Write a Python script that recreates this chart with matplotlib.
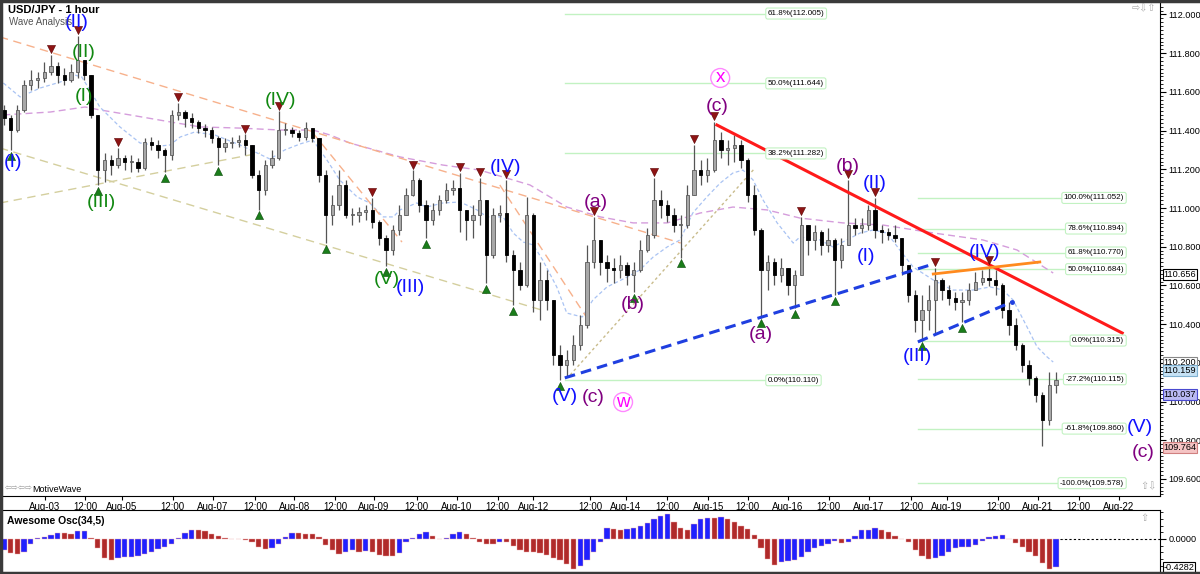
import matplotlib
matplotlib.use("Agg")
import matplotlib.pyplot as plt
import matplotlib.transforms as mtransforms
from matplotlib.lines import Line2D
from matplotlib.ticker import MultipleLocator, FixedLocator

plt.rcParams["font.family"] = ["Liberation Sans", "DejaVu Sans"]

first_open = 111.507
close = [
    111.465, 111.403, 111.507, 111.636, 111.662, 111.672, 111.703, 111.734, 111.687, 111.662,
    111.703, 111.765, 111.687, 111.481, 111.196, 111.248, 111.222, 111.258, 111.238, 111.238,
    111.207, 111.341, 111.326, 111.300, 111.274, 111.481, 111.496, 111.465, 111.445, 111.413,
    111.403, 111.362, 111.315, 111.336, 111.341, 111.352, 111.326, 111.171, 111.093, 111.222,
    111.258, 111.403, 111.403, 111.388, 111.367, 111.413, 111.362, 111.171, 110.964, 111.016,
    111.119, 110.964, 110.964, 110.979, 110.990, 110.928, 110.845, 110.783, 110.886, 110.964,
    111.067, 111.145, 111.016, 110.938, 110.990, 111.041, 111.093, 111.103, 110.990, 110.938,
    110.964, 111.041, 110.757, 110.964, 110.974, 110.757, 110.680, 110.602, 110.964, 110.525,
    110.628, 110.525, 110.240, 110.189, 110.214, 110.292, 110.395, 110.721, 110.835, 110.721,
    110.690, 110.680, 110.705, 110.654, 110.680, 110.783, 110.861, 111.041, 111.016, 110.964,
    110.912, 110.912, 111.067, 111.196, 111.171, 111.196, 111.352, 111.300, 111.310, 111.326,
    111.248, 111.067, 110.886, 110.680, 110.721, 110.654, 110.690, 110.602, 110.654, 110.912,
    110.835, 110.876, 110.809, 110.835, 110.731, 110.809, 110.912, 110.897, 110.912, 110.990,
    110.886, 110.876, 110.861, 110.845, 110.705, 110.550, 110.421, 110.473, 110.525, 110.628,
    110.576, 110.535, 110.514, 110.525, 110.576, 110.618, 110.638, 110.628, 110.602, 110.473,
    110.395, 110.292, 110.189, 110.122, 110.034, 109.904, 110.085, 110.111,
]
high = [
    111.532, 111.481, 111.532, 111.662, 111.713, 111.703, 111.755, 111.791, 111.755, 111.724,
    111.744, 111.889, 111.765, 111.687, 111.481, 111.284, 111.274, 111.310, 111.274, 111.274,
    111.258, 111.362, 111.367, 111.352, 111.310, 111.507, 111.543, 111.507, 111.491, 111.455,
    111.434, 111.419, 111.372, 111.362, 111.367, 111.377, 111.382, 111.326, 111.196, 111.248,
    111.300, 111.501, 111.439, 111.419, 111.403, 111.445, 111.413, 111.362, 111.196, 111.067,
    111.196, 111.145, 111.000, 111.005, 111.016, 111.052, 110.938, 110.861, 110.912, 111.016,
    111.103, 111.196, 111.155, 111.041, 111.026, 111.067, 111.129, 111.145, 111.181, 110.990,
    111.016, 111.155, 111.041, 111.000, 111.016, 111.145, 110.783, 110.721, 111.057, 110.975,
    110.721, 110.680, 110.525, 110.292, 110.266, 110.344, 110.447, 110.809, 110.954, 110.835,
    110.757, 110.742, 110.757, 110.721, 110.721, 110.835, 110.897, 111.155, 111.093, 111.041,
    111.000, 110.964, 111.119, 111.326, 111.248, 111.258, 111.445, 111.393, 111.352, 111.377,
    111.352, 111.258, 111.119, 110.897, 110.757, 110.742, 110.742, 110.690, 110.680, 110.954,
    110.912, 110.912, 110.886, 110.897, 110.845, 110.845, 111.145, 110.948, 110.948, 111.016,
    111.052, 110.912, 110.897, 110.912, 110.845, 110.705, 110.576, 110.550, 110.602, 110.690,
    110.638, 110.602, 110.566, 110.566, 110.612, 110.669, 110.680, 110.700, 110.680, 110.612,
    110.514, 110.432, 110.302, 110.214, 110.132, 110.049, 110.153, 110.153,
]
low = [
    111.429, 111.300, 111.393, 111.496, 111.610, 111.620, 111.651, 111.687, 111.646, 111.636,
    111.651, 111.672, 111.662, 111.465, 111.119, 111.134, 111.171, 111.207, 111.196, 111.186,
    111.186, 111.196, 111.300, 111.258, 111.186, 111.248, 111.455, 111.419, 111.413, 111.388,
    111.367, 111.336, 111.222, 111.289, 111.310, 111.315, 111.274, 111.155, 110.990, 111.067,
    111.207, 111.250, 111.377, 111.367, 111.346, 111.352, 111.341, 111.134, 110.819, 110.912,
    110.990, 110.948, 110.912, 110.928, 110.938, 110.897, 110.809, 110.700, 110.757, 110.861,
    110.964, 111.060, 110.979, 110.845, 110.912, 110.964, 111.026, 111.067, 110.876, 110.835,
    110.845, 110.912, 110.612, 110.742, 110.928, 110.721, 110.499, 110.576, 110.590, 110.463,
    110.421, 110.473, 110.189, 110.110, 110.132, 110.189, 110.266, 110.380, 110.690, 110.654,
    110.618, 110.612, 110.638, 110.602, 110.566, 110.669, 110.773, 110.845, 110.948, 110.928,
    110.876, 110.742, 110.897, 111.067, 111.119, 111.134, 111.186, 111.258, 111.222, 111.238,
    111.207, 111.031, 110.861, 110.432, 110.576, 110.602, 110.618, 110.550, 110.483, 110.654,
    110.757, 110.783, 110.757, 110.773, 110.550, 110.690, 110.809, 110.861, 110.871, 110.886,
    110.845, 110.819, 110.835, 110.824, 110.654, 110.514, 110.359, 110.315, 110.370, 110.354,
    110.525, 110.499, 110.473, 110.411, 110.499, 110.576, 110.602, 110.597, 110.550, 110.432,
    110.344, 110.266, 110.153, 110.085, 109.997, 109.770, 109.879, 110.044,
]
# Awesome Oscillator (34,5), one value per bar
ao = [
    -0.16, -0.21, -0.23, -0.20, -0.08, 0.01, 0.035, 0.06, 0.085, 0.085,
    0.08, 0.12, 0.125, 0.02, -0.14, -0.29, -0.31, -0.28, -0.275, -0.265,
    -0.255, -0.225, -0.19, -0.155, -0.12, -0.07, 0.02, 0.095, 0.13, 0.13,
    0.115, 0.08, 0.045, 0.015, -0.005, -0.005, -0.01, -0.05, -0.12, -0.155,
    -0.14, -0.08, 0.03, 0.085, 0.085, 0.08, 0.07, 0.03, -0.09, -0.17,
    -0.23, -0.20, -0.17, -0.19, -0.18, -0.20, -0.24, -0.255, -0.26, -0.21,
    -0.04, 0.01, 0.08, 0.10, 0.04, 0.005, 0.01, 0.075, 0.11, 0.08,
    0.01, -0.05, -0.07, -0.07, -0.04, -0.05, -0.10, -0.16, -0.19, -0.19,
    -0.21, -0.245, -0.28, -0.31, -0.38, -0.45, -0.40, -0.32, -0.19, -0.04,
    0.17, 0.15, 0.14, 0.15, 0.165, 0.20, 0.245, 0.30, 0.34, 0.37,
    0.26, 0.17, 0.14, 0.22, 0.30, 0.32, 0.31, 0.33, 0.30, 0.26,
    0.19, 0.15, 0.06, -0.14, -0.30, -0.39, -0.35, -0.33, -0.32, -0.27,
    -0.19, -0.135, -0.11, -0.07, -0.035, -0.065, -0.05, 0.05, 0.13, 0.14,
    0.16, 0.14, 0.10, 0.045, 0.0, -0.05, -0.16, -0.26, -0.30, -0.29,
    -0.25, -0.20, -0.14, -0.125, -0.12, -0.085, -0.03, 0.03, 0.045, 0.056,
    0.005, -0.065, -0.12, -0.19, -0.26, -0.36, -0.45, -0.4282,
]

date_labels = ["Aug-03", "12:00", "Aug-05", "12:00", "Aug-07", "12:00", "Aug-08", "12:00",
               "Aug-09", "12:00", "Aug-10", "12:00", "Aug-12", "12:00", "Aug-14", "12:00",
               "Aug-15", "12:00", "Aug-16", "12:00", "Aug-17", "12:00", "Aug-19", "12:00",
               "Aug-21", "12:00", "Aug-22"]
date_ticks = [6.1, 12.1, 17.6, 25.2, 31.2, 37.5, 43.3, 49.4, 55.2, 61.6, 67.6, 73.7, 79.0,
              87.5, 92.8, 99.0, 105.1, 111.0, 117.0, 123.1, 129.1, 135.4, 140.7, 148.4,
              154.3, 160.4, 166.4]

# swing markers (bar numbers)
swing_highs = [7, 11, 17, 26, 36, 41, 55, 61, 68, 71, 75, 88, 97, 103, 106, 119, 126, 130, 139, 147]
swing_lows = [1, 14, 24, 32, 38, 48, 57, 63, 72, 76, 83, 94, 101, 113, 118, 124, 137, 143]

# moving averages (bar, price)
ma_fast = [(-0.1, 111.646), (2.4, 111.574), (5.4, 111.620), (8.4, 111.651), (10.6, 111.687),
           (11.6, 111.677), (12.8, 111.610), (14.3, 111.522), (17.3, 111.419), (20.3, 111.336),
           (23.3, 111.320), (24.8, 111.326), (26.3, 111.367), (28.5, 111.393), (31.5, 111.377),
           (35.2, 111.326), (37.5, 111.289), (39.7, 111.253), (41.9, 111.300), (44.2, 111.331),
           (46.1, 111.351), (48.2, 111.248), (50.1, 111.145), (52.7, 111.057), (54.6, 111.026),
           (56.6, 110.954), (58.1, 110.954), (59.1, 110.990), (61.6, 111.026), (63.1, 111.005),
           (65.5, 111.026), (68.1, 111.031), (70.6, 110.990), (72.1, 110.954), (74.5, 110.954),
           (76.0, 110.871), (77.5, 110.824), (79.0, 110.809), (80.4, 110.731), (82.5, 110.592),
           (84.0, 110.457), (86.3, 110.437), (87.9, 110.525), (90.0, 110.592), (93.0, 110.643),
           (94.9, 110.680), (96.9, 110.747), (99.0, 110.799), (100.9, 110.835), (102.8, 110.974),
           (104.9, 111.057), (106.9, 111.129), (108.8, 111.181), (110.3, 111.196), (111.8, 111.145),
           (113.3, 111.041), (115.4, 110.923), (117.8, 110.819), (118.8, 110.850), (121.8, 110.835),
           (123.7, 110.799), (125.8, 110.835), (127.8, 110.871), (129.7, 110.886), (131.8, 110.871),
           (133.7, 110.783), (135.7, 110.695), (138.7, 110.628), (141.6, 110.576), (144.6, 110.576),
           (147.2, 110.592), (149.1, 110.576), (150.6, 110.525), (152.7, 110.385), (154.2, 110.282),
           (155.7, 110.230), (156.6, 110.204)]
ma_slow = [(-0.1, 111.481), (6.9, 111.496), (12.1, 111.522), (14.3, 111.507), (18.8, 111.481),
           (24.8, 111.445), (29.3, 111.419), (35.2, 111.413), (41.2, 111.403), (46.1, 111.403),
           (48.7, 111.377), (51.6, 111.336), (59.1, 111.264), (65.5, 111.222), (71.0, 111.196),
           (74.5, 111.160), (78.5, 111.119), (84.0, 111.005), (89.0, 110.954), (93.9, 110.923),
           (99.0, 110.923), (103.9, 110.974), (108.8, 111.005), (113.9, 110.990), (118.8, 110.948),
           (125.2, 110.923), (131.2, 110.912), (138.7, 110.871), (146.1, 110.835), (151.2, 110.783),
           (156.6, 110.664)]

# drawn trend lines: (bar0, price0, bar1, price1)
orange_dashed = [(-0.6, 111.884, 101.0, 110.819), (46.1, 111.388, 59.4, 110.824),
                 (74.0, 111.119, 87.5, 110.406)]
tan_dashed = [(-0.6, 111.310, 80.7, 110.468), (-0.6, 111.026, 38.2, 111.284)]
tan_dotted = [(84.5, 110.137, 112.1, 111.207)]
blue_dashed = [(83.7, 110.122, 138.2, 110.705), (136.4, 110.308, 150.4, 110.514)]
red_line = (106.4, 111.429, 166.9, 110.354)
orange_line = (138.7, 110.659, 154.6, 110.721)

fib_left = [("61.8%", 112.005), ("50.0%", 111.644), ("38.2%", 111.282), ("0.0%", 110.110)]
fib_right = [("100.0%", 111.052), ("78.6%", 110.894), ("61.8%", 110.770), ("50.0%", 110.684),
             ("0.0%", 110.315), ("-27.2%", 110.115), ("-61.8%", 109.860), ("-100.0%", 109.578)]

wave_labels = [
    (1.3, 111.233, "(I)", "#1010ff"), (10.9, 111.961, "(II)", "#1010ff"),
    (60.6, 110.587, "(III)", "#1010ff"), (74.8, 111.207, "(IV)", "#1010ff"),
    (83.7, 110.028, "(V)", "#1010ff"), (128.7, 110.747, "(I)", "#1010ff"),
    (130.0, 111.129, "(II)", "#1010ff"), (136.4, 110.230, "(III)", "#1010ff"),
    (146.4, 110.768, "(IV)", "#1010ff"), (169.6, 109.868, "(V)", "#1010ff"),
    (11.9, 111.806, "(II)", "#118811"), (11.9, 111.574, "(I)", "#118811"),
    (14.6, 111.026, "(III)", "#118811"), (41.2, 111.558, "(IV)", "#118811"),
    (57.2, 110.628, "(V)", "#118811"),
    (88.4, 111.026, "(a)", "#800080"), (93.9, 110.499, "(b)", "#800080"),
    (106.4, 111.522, "(c)", "#800080"), (87.9, 110.023, "(c)", "#800080"),
    (113.0, 110.344, "(a)", "#800080"), (126.0, 111.212, "(b)", "#800080"),
    (170.0, 109.734, "(c)", "#800080"),
]
circle_labels = [(92.4, 109.997, "w"), (106.9, 111.672, "x")]

price_boxes = [(110.656, "white", "black"), (110.200, "white", "#888888"),
               (110.159, "#c6e2f5", "#7fb0d0"), (110.037, "#b9b9f2", "#4a4ad0"),
               (109.764, "#f5c4c4", "#d08080")]

opens = [first_open] + close[:-1]
idx = list(range(len(close)))

fig = plt.figure(figsize=(12, 5.74), dpi=100)
ax = fig.add_axes([0.002, 0.1359, 0.965, 0.8589])
ax_ao = fig.add_axes([0.002, 0.0035, 0.965, 0.108])

# fib levels
for name, p in fib_left:
    ax.plot([83.7, 114.0], [p, p], color="#c2f2c2", lw=1, zorder=1)
    ax.text(114.0, p, f"{name}({p:.3f})", fontsize=5.8, ha="left", va="center", zorder=7,
            bbox=dict(boxstyle="round,pad=0.25", fc="white", ec="#c2f2c2", lw=0.8))
for name, p in fib_right:
    ax.plot([136.4, 167.0], [p, p], color="#c2f2c2", lw=1, zorder=1)
    ax.text(167.2, p, f"{name}({p:.3f})", fontsize=5.8, ha="right", va="center", zorder=7,
            bbox=dict(boxstyle="round,pad=0.25", fc="white", ec="#c2f2c2", lw=0.8))

# moving averages
ax.plot([a for a, b in ma_slow], [b for a, b in ma_slow], color="#d59ddc", lw=1.0,
        dashes=(5, 3), zorder=2)
ax.plot([a for a, b in ma_fast], [b for a, b in ma_fast], color="#a9c3f3", lw=0.9,
        dashes=(3, 2), zorder=2)

# trend lines
for x0, y0, x1, y1 in orange_dashed:
    ax.plot([x0, x1], [y0, y1], color="#f7b18c", lw=1.0, dashes=(6, 4), zorder=2)
for x0, y0, x1, y1 in tan_dashed:
    ax.plot([x0, x1], [y0, y1], color="#d4cf9e", lw=1.0, dashes=(6, 4), zorder=2)
for x0, y0, x1, y1 in tan_dotted:
    ax.plot([x0, x1], [y0, y1], color="#c9bc8c", lw=1.0, dashes=(2, 2), zorder=2)

# candles
wick_lo = [min(l, o, c) for l, o, c in zip(low, opens, close)]
wick_hi = [max(h, o, c) for h, o, c in zip(high, opens, close)]
ax.vlines(idx, wick_lo, wick_hi, color="#555555", lw=0.9, zorder=3)
body_bottom = [min(o, c) for o, c in zip(opens, close)]
body_h = [max(abs(c - o), 0.004) for o, c in zip(opens, close)]
face = ["#a8a8a8" if c >= o else "black" for o, c in zip(opens, close)]
edge = ["#5a5a5a" if c >= o else "black" for o, c in zip(opens, close)]
ax.bar(idx, body_h, bottom=body_bottom, width=0.5, color=face, edgecolor=edge,
       linewidth=0.6, zorder=4)

for x0, y0, x1, y1 in blue_dashed:
    ax.plot([x0, x1], [y0, y1], color="#1f3fe0", lw=2.2, dashes=(3.5, 2), zorder=5)
ax.plot(blue_dashed[1][2], blue_dashed[1][3], "o", color="#1f3fe0", ms=2.5, zorder=5)
ax.plot([red_line[0], red_line[2]], [red_line[1], red_line[3]], color="#ff1a1a", lw=2.2, zorder=5)
ax.plot([orange_line[0], orange_line[2]], [orange_line[1], orange_line[3]], color="#ff8a1e",
        lw=2.0, zorder=5)

# swing markers
up_off = mtransforms.offset_copy(ax.transData, fig=fig, y=4, units="points")
dn_off = mtransforms.offset_copy(ax.transData, fig=fig, y=-4, units="points")
ax.scatter(swing_highs, [high[i] for i in swing_highs], marker="v", s=34, color="#8e1414",
           edgecolor="#5a0000", linewidth=0.4, transform=up_off, zorder=6)
ax.scatter(swing_lows, [low[i] for i in swing_lows], marker="^", s=34, color="#1a7d1a",
           edgecolor="#0a4a0a", linewidth=0.4, transform=dn_off, zorder=6)

# wave labels
for k, p, t, col in wave_labels:
    ax.text(k, p, t, color=col, fontsize=14, ha="center", va="center", zorder=8)
for k, p, t in circle_labels:
    ax.text(k, p, t, color="#ff00ff", fontsize=13.5, ha="center", va="center", zorder=8,
            bbox=dict(boxstyle="circle,pad=0.05", fc="white", ec="#ff88ff", lw=1))

# axes styling (main)
ax.set_xlim(-0.24, 172.6)
ax.set_ylim(109.5117, 112.0595)
ax.yaxis.tick_right()
ax.yaxis.set_major_locator(FixedLocator([109.6, 109.8, 110.0, 110.2, 110.4, 110.6, 110.8,
                                         111.0, 111.2, 111.4, 111.6, 111.8, 112.0]))
ax.yaxis.set_minor_locator(MultipleLocator(0.02))
ax.yaxis.set_major_formatter(matplotlib.ticker.FormatStrFormatter("%.3f"))
ax.tick_params(axis="y", which="major", direction="out", length=4.5, width=0.8, labelsize=6.6, pad=1.2)
ax.tick_params(axis="y", which="minor", direction="out", length=2.5, width=0.6)
ax.set_xticks(date_ticks)
ax.set_xticklabels(date_labels)
ax.tick_params(axis="x", direction="out", length=3, width=0.8, labelsize=7, pad=1.5)
for s in ["top", "left"]:
    ax.spines[s].set_visible(False)
ax.spines["right"].set_linewidth(0.8)
ax.spines["bottom"].set_linewidth(0.8)

for p, fc, ec in price_boxes:
    ax.annotate(f"{p:.3f}", xy=(1, p), xycoords=("axes fraction", "data"), xytext=(2.2, 0),
                textcoords="offset points", fontsize=6.6, ha="left", va="center", zorder=9,
                annotation_clip=False,
                bbox=dict(boxstyle="square,pad=0.1", fc=fc, ec=ec, lw=0.8))

# awesome oscillator
ao_col = ["#2020ff"] + ["#2020ff" if ao[i] > ao[i - 1] else "#b02a2a" for i in range(1, len(ao))]
ax_ao.bar(idx, ao, width=0.8, color=ao_col, edgecolor="#f0b0b0", linewidth=0.3)
ax_ao.plot([idx[-1] + 0.6, 172.6], [0, 0], color="black", lw=0.8, dashes=(2, 2))
ax_ao.set_xlim(-0.24, 172.6)
ax_ao.set_ylim(-0.496, 0.436)
ax_ao.set_xticks([])
ax_ao.yaxis.tick_right()
ax_ao.set_yticks([0.0])
ax_ao.set_yticklabels(["0.0000"])
ax_ao.yaxis.set_minor_locator(MultipleLocator(0.1))
ax_ao.tick_params(axis="y", which="major", direction="out", length=4.5, width=0.8, labelsize=6.6, pad=1.2)
ax_ao.tick_params(axis="y", which="minor", direction="out", length=2.5, width=0.6)
for s in ["bottom", "left"]:
    ax_ao.spines[s].set_visible(False)
ax_ao.annotate(f"{ao[-1]:.4f}", xy=(1, ao[-1]), xycoords=("axes fraction", "data"),
               xytext=(2.2, 0), textcoords="offset points", fontsize=6.6, ha="left",
               va="center", annotation_clip=False,
               bbox=dict(boxstyle="square,pad=0.1", fc="white", ec="black", lw=0.8))

# frame and header texts
for xs, ys in [([0, 1], [0.998, 0.998]), ([0.001, 0.001], [0, 1]), ([0, 1], [0.002, 0.002])]:
    fig.add_artist(Line2D(xs, ys, transform=fig.transFigure, color="#3a3a3a", lw=2.5))
fig.text(8 / 1200, 1 - 10 / 574, "USD/JPY - 1 hour", fontsize=8, fontweight="bold", va="center")
fig.text(9 / 1200, 1 - 22 / 574, "Wave Analysis", fontsize=7, color="#555555", va="center")
fig.text(5 / 1200, 1 - 489 / 574, "⇦⇨⇦⇨", fontsize=6, color="#999999", va="center")
fig.text(32 / 1200, 1 - 489 / 574, "MotiveWave", fontsize=6.5, va="center")
fig.text(7 / 1200, 1 - 521 / 574, "Awesome Osc(34,5)", fontsize=7.5, fontweight="bold", va="center")
fig.text(1132 / 1200, 1 - 8 / 574, "⇨⇩⇧", fontsize=7, color="#aaaaaa", va="center")
fig.text(1140 / 1200, 1 - 486 / 574, "⇧⇩", fontsize=7, color="#aaaaaa", va="center")
fig.text(1140 / 1200, 1 - 518 / 574, "⇧", fontsize=7, color="#aaaaaa", va="center")

fig.savefig("out.png", dpi=100)
